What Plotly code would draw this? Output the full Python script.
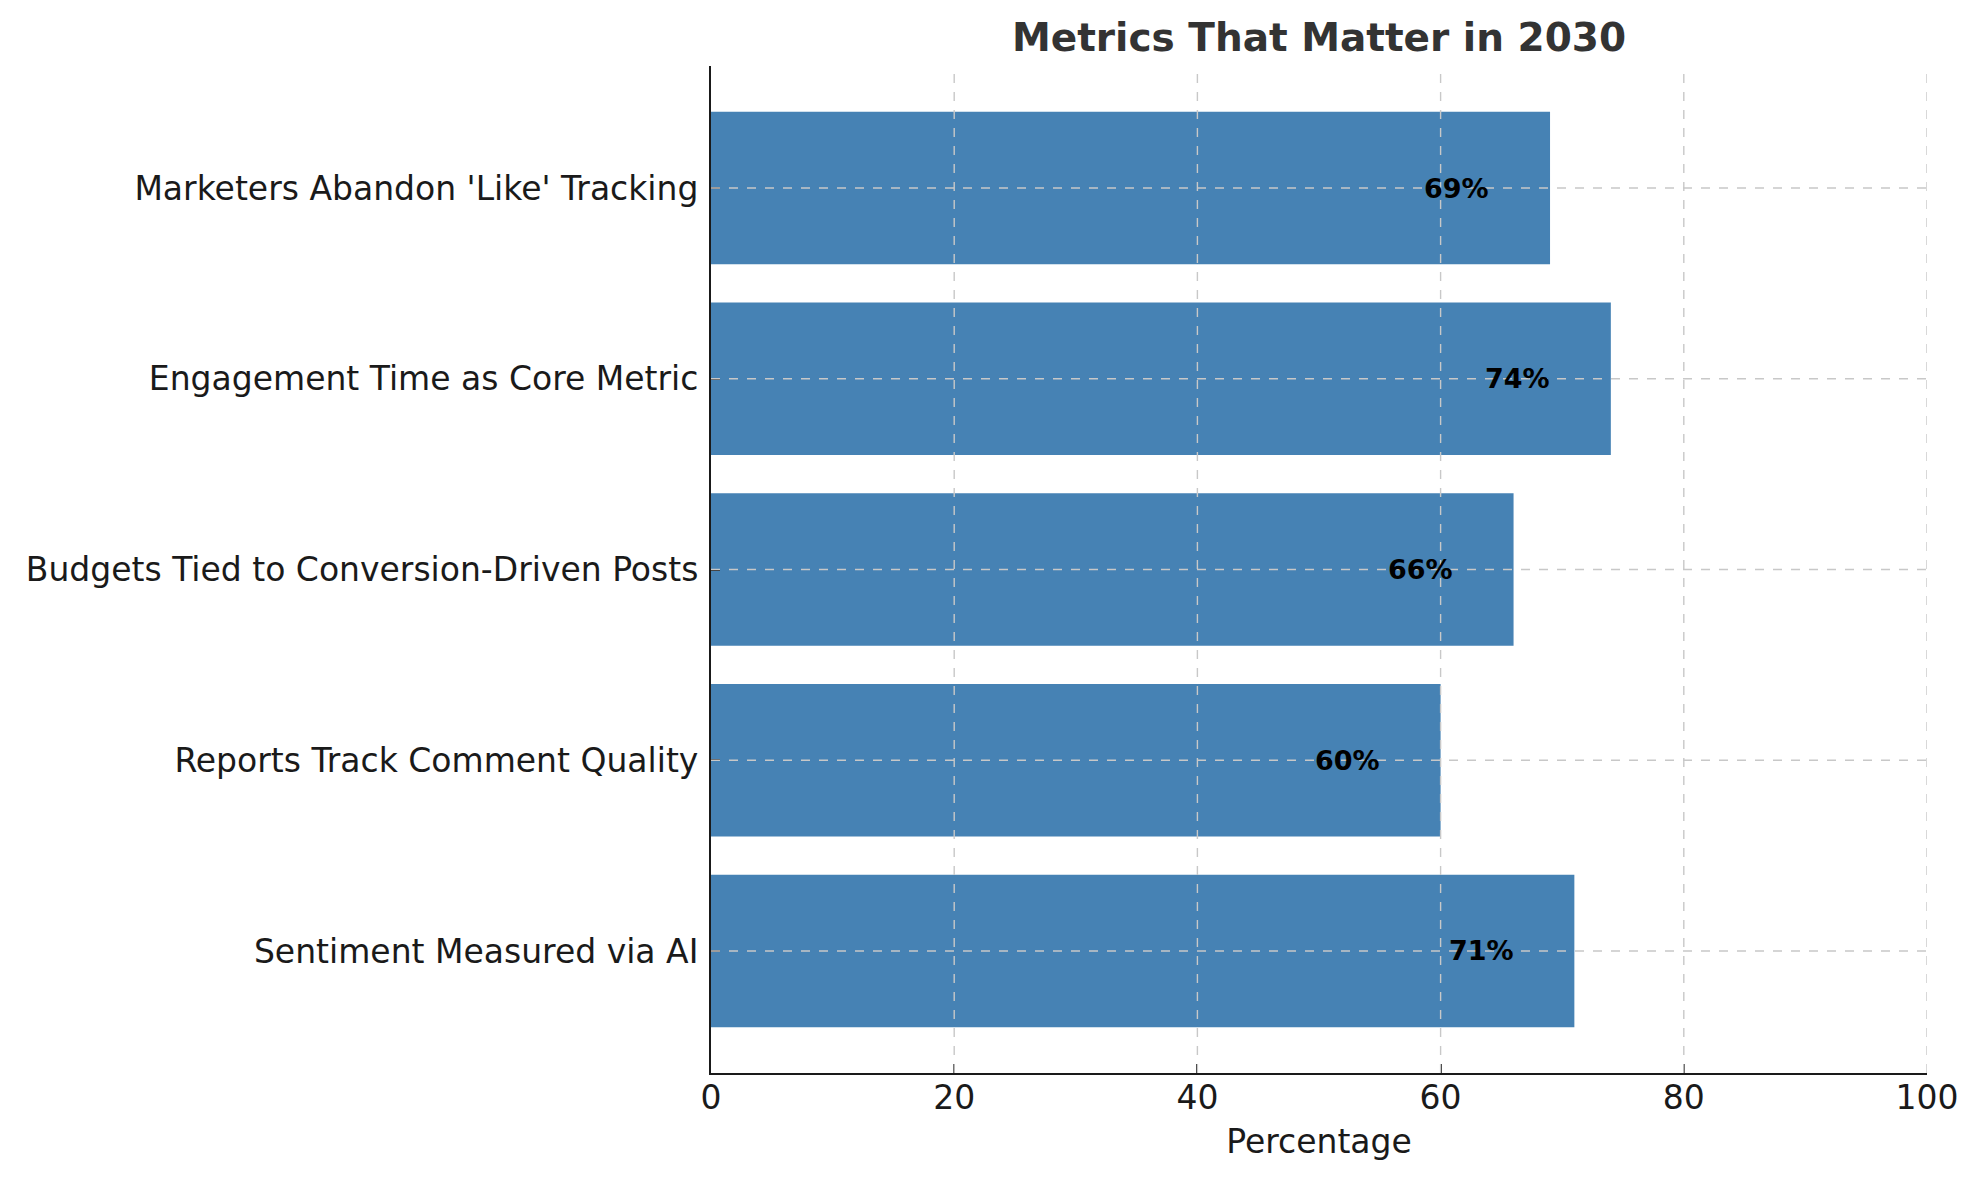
import plotly.graph_objects as go

categories = [
    "Sentiment Measured via AI",
    "Reports Track Comment Quality",
    "Budgets Tied to Conversion-Driven Posts",
    "Engagement Time as Core Metric",
    "Marketers Abandon 'Like' Tracking",
]
values = [71, 60, 66, 74, 69]
label_offset = 8
x_ticks = [0, 20, 40, 60, 80, 100]

W, H = 1979, 1180
L, R, T, B = 711, 52, 66, 107
GRID = dict(color="#c8c8c8", width=1.4, dash="dash")

fig = go.Figure()
fig.add_trace(go.Bar(
    y=list(range(len(categories))),
    x=values,
    orientation="h",
    marker=dict(color="#4682B4", line=dict(width=0)),
    width=0.8,
    hoverinfo="skip",
))

# gridlines drawn above the bars (as in the reference)
for t in x_ticks[1:]:
    fig.add_shape(type="line", xref="x", yref="paper", x0=t, x1=t, y0=0, y1=1,
                  line=GRID, layer="above")
for i in range(len(categories)):
    fig.add_shape(type="line", xref="paper", yref="y", x0=0, x1=1, y0=i, y1=i,
                  line=GRID, layer="above")

for i, v in enumerate(values):
    fig.add_annotation(
        x=v - label_offset, y=i, xref="x", yref="y",
        text=f"<b>{v}%</b>", showarrow=False,
        font=dict(family="DejaVu Sans", size=27, color="#000000"),
        xanchor="center", yanchor="middle", xshift=4,
    )

fig.update_layout(
    width=W, height=H,
    margin=dict(l=L, r=R, t=T, b=B, pad=0),
    paper_bgcolor="white", plot_bgcolor="white",
    showlegend=False,
    bargap=0.2,
    title=dict(
        text="<b>Metrics That Matter in 2030</b>",
        x=(L + (W - L - R) / 2) / W, xanchor="center",
        y=1 - 37 / H, yanchor="middle", yref="container",
        font=dict(family="DejaVu Sans", size=39, color="#333333"),
    ),
    font=dict(family="DejaVu Sans", color="#1a1a1a"),
)

fig.update_xaxes(
    range=[0, 100],
    tickvals=x_ticks,
    ticktext=[str(t) for t in x_ticks],
    ticks="inside", ticklen=9, tickwidth=2, tickcolor="#1a1a1a",
    showline=True, linecolor="#1a1a1a", linewidth=2,
    showgrid=False,
    zeroline=False,
    layer="above traces",
    tickfont=dict(family="DejaVu Sans", size=33, color="#1a1a1a"),
    ticklabelstandoff=-6,
    title=dict(text="Percentage", font=dict(family="DejaVu Sans", size=33, color="#1a1a1a"), standoff=14),
)

fig.update_yaxes(
    range=[-0.64, len(categories) - 1 + 0.64],
    tickvals=list(range(len(categories))),
    ticktext=categories,
    ticks="inside", ticklen=9, tickwidth=2, tickcolor="#1a1a1a",
    showline=True, linecolor="#1a1a1a", linewidth=2,
    showgrid=False,
    zeroline=False,
    layer="above traces",
    tickfont=dict(family="DejaVu Sans", size=33, color="#1a1a1a"),
    ticklabelstandoff=4,
)

fig.write_html("out.html")
